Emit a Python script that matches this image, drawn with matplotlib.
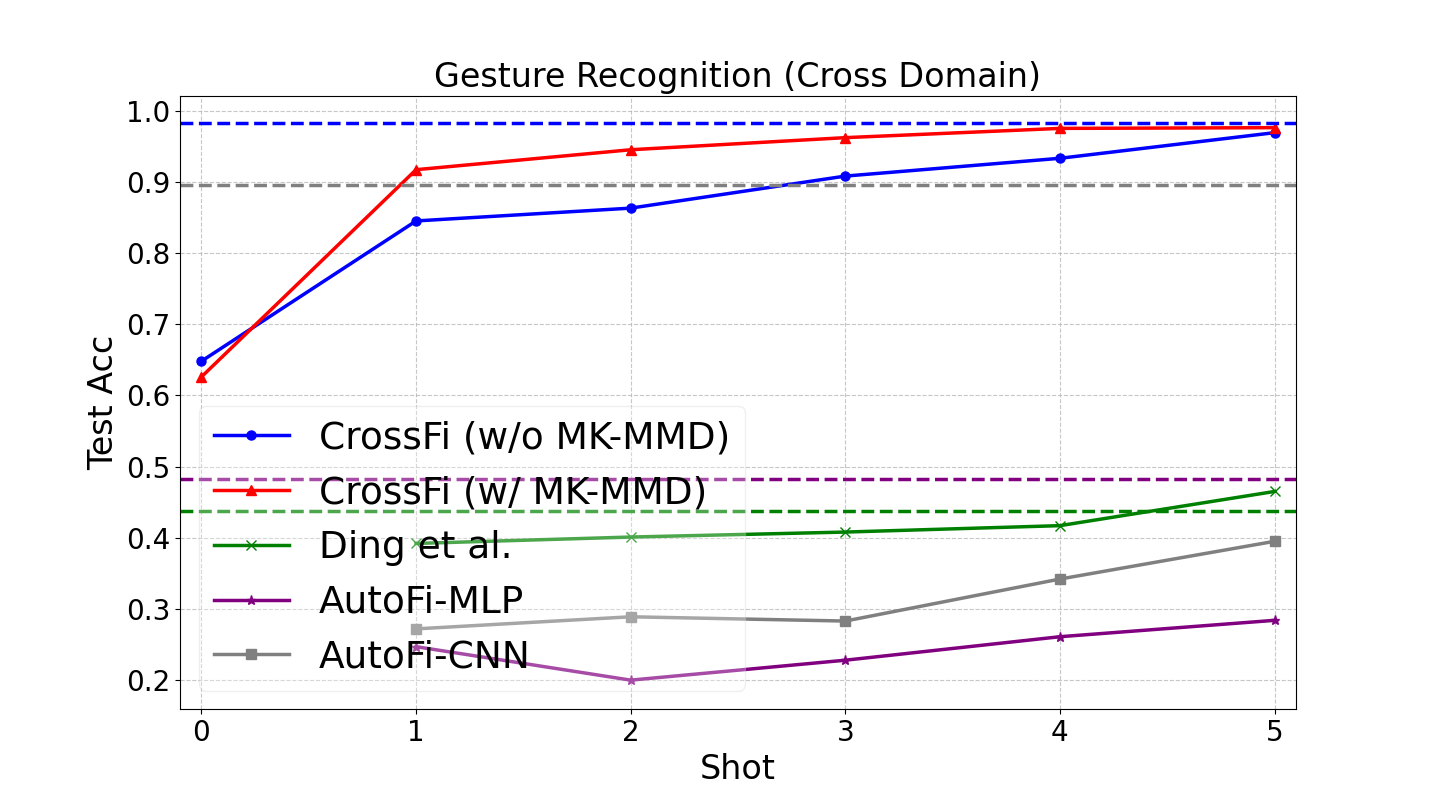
import matplotlib.pyplot as plt

shots = [0, 1, 2, 3, 4, 5]
shots_base = [1, 2, 3, 4, 5]

crossfi_wo = [0.648, 0.845, 0.863, 0.908, 0.933, 0.969]
crossfi_w = [0.626, 0.917, 0.945, 0.962, 0.975, 0.976]
ding = [0.392, 0.401, 0.408, 0.417, 0.465]
autofi_mlp = [0.247, 0.200, 0.228, 0.261, 0.284]
autofi_cnn = [0.272, 0.289, 0.283, 0.342, 0.395]

# reference levels (dashed lines)
ref_crossfi = 0.982
ref_autofi_cnn = 0.895
ref_autofi_mlp = 0.483
ref_ding = 0.438

fig, ax = plt.subplots(figsize=(14.4, 7.97), dpi=100)

ax.plot(shots, crossfi_wo, color='blue', marker='o', markersize=6.5, linewidth=2.5, label='CrossFi (w/o MK-MMD)')
ax.plot(shots, crossfi_w, color='red', marker='^', markersize=6.5, linewidth=2.5, label='CrossFi (w/ MK-MMD)')
ax.plot(shots_base, ding, color='green', marker='x', markersize=6.5, linewidth=2.5, label='Ding et al.')
ax.plot(shots_base, autofi_mlp, color='purple', marker='*', markersize=6.5, linewidth=2.5, label='AutoFi-MLP')
ax.plot(shots_base, autofi_cnn, color='gray', marker='s', markersize=6.5, linewidth=2.5, label='AutoFi-CNN')

ax.axhline(ref_crossfi, color='blue', linestyle='--', linewidth=2.5)
ax.axhline(ref_autofi_cnn, color='gray', linestyle='--', linewidth=2.5)
ax.axhline(ref_autofi_mlp, color='purple', linestyle='--', linewidth=2.5)
ax.axhline(ref_ding, color='green', linestyle='--', linewidth=2.5)

ax.set_xlim(-0.1, 5.1)
ax.set_ylim(0.159, 1.021)
ax.set_xticks(shots)
ax.set_title('Gesture Recognition (Cross Domain)', fontsize=24)
ax.set_xlabel('Shot', fontsize=24)
ax.set_ylabel('Test Acc', fontsize=24)
ax.tick_params(labelsize=20)
ax.grid(True, linestyle='--', alpha=0.7)
ax.legend(fontsize=27, loc='lower left', framealpha=0.3)

plt.savefig('out.png', dpi=100)
plt.close(fig)
